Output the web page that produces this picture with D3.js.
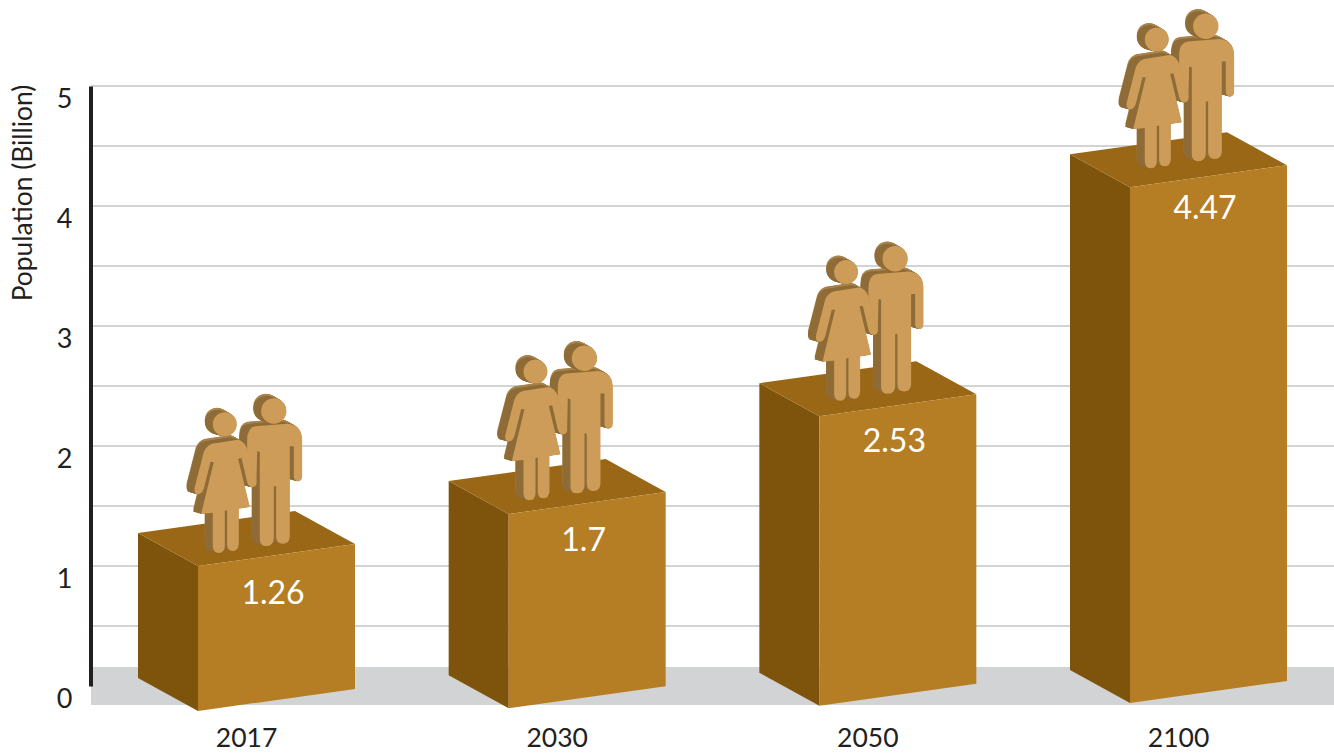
<!DOCTYPE html>
<html>
<head>
<meta charset="utf-8">
<script src="https://cdn.jsdelivr.net/npm/d3@7/dist/d3.min.js"></script>
<style>
html,body{margin:0;padding:0;background:#fff;overflow:hidden}
svg{display:block;font-family:Lato,sans-serif}
</style>
</head>
<body>
<svg id="chart" width="1334" height="754"></svg>
<script>
const categories = ["2017", "2030", "2050", "2100"];
const populationValues = [1.26, 1.7, 2.53, 4.47];
const valueLabels = ["1.26", "1.7", "2.53", "4.47"];
const axisTicks = [0, 1, 2, 3, 4, 5];
const gridTicks = [0.5, 1, 1.5, 2, 2.5, 3, 3.5, 4, 4.5, 5];
const axisTitle = "Population (Billion)";

const svg = d3.select("#chart");
const y = d3.scaleLinear().domain([0, 5]).range([686, 86]);
const x = d3.scalePoint().domain(categories).range([246, 1178]);
const barTop = d3.scaleLinear().domain([0, 5]).range([714.7, 124.7]);
const barBase = d3.scaleLinear().domain([246, 1178]).range([711, 703]);
const figDy = d3.scaleLinear().domain([1.26, 4.47]).range([-155, -161]);
const labelDrop = d3.scaleLinear().domain([1.26, 4.47]).range([30, 23.5]);
const figDx = 75.8;

// grid
svg.append("g").selectAll("line").data(gridTicks).join("line")
  .attr("x1", 91).attr("x2", 1334)
  .attr("y1", d => y(d)).attr("y2", d => y(d))
  .attr("stroke", "#d1d3d4").attr("stroke-width", 2);

// floor
svg.append("rect").attr("x", 91).attr("y", 667).attr("width", 1243).attr("height", 38).attr("fill", "#d1d3d4");

// y axis
const axisG = svg.append("g").attr("transform", "translate(90.5,0)")
  .call(d3.axisLeft(y).tickValues(axisTicks).tickSize(0).tickPadding(18).tickFormat(d3.format("d")));
axisG.select(".domain").attr("stroke", "#231f20").attr("stroke-width", 4);
axisG.selectAll("text").attr("font-family", "Lato").attr("font-size", 27).attr("fill", "#231f20").attr("dy", 21);

svg.append("text").attr("transform", "translate(32,193) rotate(-90)")
  .attr("text-anchor", "middle").attr("font-size", 26.4).attr("fill", "#231f20").text(axisTitle);

// x axis
const xG = svg.append("g").attr("transform", "translate(0,713.5)")
  .call(d3.axisBottom(x).tickSize(0).tickPadding(8));
xG.select(".domain").remove();
xG.selectAll("text").attr("font-family", "Lato").attr("font-size", 26.5).attr("fill", "#231f20").attr("dy", "0.95em");

// silhouettes (icon outlines, in a local drawing space)
const circlePath = (cx, cy, r) => `M${cx - r} ${cy}A${r} ${r} 0 1 1 ${cx + r} ${cy}A${r} ${r} 0 1 1 ${cx - r} ${cy}Z`;
const manShape = circlePath(430, 62, 38) +
  "M375 108L470 100Q515 103 515 150L515 258Q515 273 502 273Q490 272 490 258L490 168L478 168L478 440Q476 460 457 460Q438 460 437 440L437 288L430 288L430 445Q428 467 407 467Q388 467 388 445L388 185L380 183L378 275Q375 292 360 290Q350 285 350 270L350 150Q350 112 375 108Z";
const womanShape = circlePath(283, 102, 36) +
  "M245 160L322 148Q342 152 350 175L378 272Q380 290 365 291Q354 290 350 275L333 203L323 205L358 350L325 355L325 462Q323 482 307 482Q290 482 290 462L290 360L283 361L283 468Q282 488 265 488Q248 488 247 468L247 367L212 371L250 215L240 215L220 295Q214 312 200 312Q190 308 193 290L220 185Q228 165 245 160Z";

function drawFigure(g, shape) {
  const steps = d3.range(14, 0, -1);
  g.selectAll(null).data(steps).join("path").attr("d", shape)
    .attr("transform", k => `translate(${-24 * k / 14},${-14 * k / 14})`)
    .attr("fill", k => k % 2 ? "#a07a42" : "#b08d56");
  g.selectAll(null).data(steps).join("path").attr("d", shape)
    .attr("transform", k => `translate(${-24 * k / 14},${-7 * k / 14})`)
    .attr("fill", "#8f6c38");
  g.append("path").attr("d", shape).attr("fill", "#cd9c58");
}

// bars
const sideDx = -60, sideDy = -33, frontDx = 157, frontDy = -22;
const line = d3.line();
const bars = svg.selectAll("g.bar").data(categories.map((c, i) => ({c, v: populationValues[i], t: valueLabels[i]})))
  .join("g").attr("class", "bar");

bars.each(function (d) {
  const g = d3.select(this);
  const fx = x(d.c) - 48, ft = barTop(d.v), fb = barBase(x(d.c));
  g.append("path").attr("fill", "#7e540c").attr("d", line([
    [fx, ft], [fx + sideDx, ft + sideDy], [fx + sideDx, fb + sideDy], [fx, fb]]) + "Z");
  g.append("path").attr("fill", "#9a6716").attr("d", line([
    [fx, ft], [fx + sideDx, ft + sideDy], [fx + sideDx + frontDx, ft + sideDy + frontDy], [fx + frontDx, ft + frontDy]]) + "Z");
  g.append("path").attr("fill", "#b57e24").attr("d", line([
    [fx, ft], [fx + frontDx, ft + frontDy], [fx + frontDx, fb + frontDy], [fx, fb]]) + "Z");
  g.append("text").attr("x", fx + 75).attr("y", ft + frontDy / 2 + labelDrop(d.v) + 19)
    .attr("text-anchor", "middle").attr("font-size", 32).attr("fill", "#fff").text(d.t);
  const fig = g.append("g")
    .attr("transform", `translate(${fx + figDx},${ft + figDy(d.v)}) scale(${1 / 3}) translate(-430,-62)`);
  drawFigure(fig.append("g"), manShape);
  drawFigure(fig.append("g"), womanShape);
});
</script>
</body>
</html>
